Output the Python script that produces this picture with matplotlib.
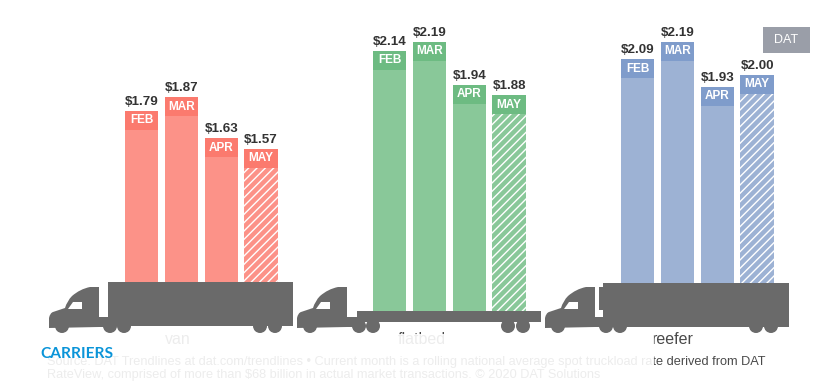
"""DAT spot rates by equipment type, drawn as bars standing on truck silhouettes."""
import matplotlib

matplotlib.use("Agg")  # headless backend

import matplotlib.pyplot as plt
from matplotlib.patches import Circle, PathPatch, Polygon, Rectangle
from matplotlib.path import Path

plt.rcParams["font.family"] = ["Liberation Sans", "DejaVu Sans"]
plt.rcParams["hatch.linewidth"] = 1.0

W, H = 833, 381

MONTHS = ["FEB", "MAR", "APR", "MAY"]
EQUIPMENT = ["van", "flatbed", "reefer"]
VAN = [1.79, 1.87, 1.63, 1.57]
FLATBED = [2.14, 2.19, 1.94, 1.88]
REEFER = [2.09, 2.19, 1.93, 2.00]

BODY = ["#fc9288", "#89c899", "#9db2d4"]
HEADER = ["#fb7a6e", "#6dbb82", "#7f9ccb"]
TRUCK = "#6a6a6a"

GROUP_X = [125, 373, 621]
STEP = 39.8
BAR_W = 33.5
PX_PER_USD = 172
HEADER_USD = 19 / PX_PER_USD
FLOOR = 0.62  # bars run down behind the truck

SOURCE_1 = ("Source: DAT Trendlines at dat.com/trendlines \u2022 Current month is a "
            "rolling national average spot truckload rate derived from DAT")
SOURCE_2 = ("RateView, comprised of more than $68 billion in actual market "
            "transactions. \u00a9 2020 DAT Solutions")

fig = plt.figure(figsize=(W / 100, H / 100), dpi=100)
ax = fig.add_axes([0, 0, 1, 1])
ax.set_xlim(0, W)
ax.set_ylim(1.87 - (H - 97) / PX_PER_USD, 1.87 + 97 / PX_PER_USD)
ax.axis("off")

# pixel-space overlay for the trucks and the text around them
ov = fig.add_axes([0, 0, 1, 1])
ov.set_xlim(0, W)
ov.set_ylim(H, 0)
ov.axis("off")
ov.patch.set_alpha(0)


def draw_bars(values, start, body, header):
    xs = [start + BAR_W / 2 + i * STEP for i in range(len(values))]
    for x, val, month in zip(xs, values, MONTHS):
        hatch = "////" if month == "MAY" else None
        ax.bar(x, val - FLOOR, BAR_W, bottom=FLOOR, color=body,
               edgecolor="white", linewidth=0, hatch=hatch, zorder=2)
        ax.bar(x, HEADER_USD, BAR_W, bottom=val - HEADER_USD, color=header,
               linewidth=0, zorder=3)
        ax.text(x, val - HEADER_USD / 2, month, color="white", fontsize=8.5,
                fontweight="bold", ha="center", va="center", zorder=4)
        ax.annotate(f"${val:.2f}", (x, val), xytext=(0, 2.2), textcoords="offset points",
                    color="#333333", fontsize=9.6, fontweight="bold",
                    ha="center", va="bottom", zorder=4)


def draw_cab(x0):
    verts = [
        (x0 + 50, 327), (x0 + 50, 287), (x0 + 41, 287), (x0 + 31, 289),
        (x0 + 23, 296), (x0 + 18, 301), (x0 + 16, 308), (x0 + 4, 312),
        (x0 + 1, 313), (x0, 318), (x0, 328), (x0 + 50, 327),
    ]
    codes = [Path.MOVETO, Path.LINETO, Path.LINETO, Path.CURVE3, Path.CURVE3,
             Path.CURVE3, Path.CURVE3, Path.LINETO, Path.CURVE3, Path.CURVE3,
             Path.LINETO, Path.CLOSEPOLY]
    ov.add_patch(PathPatch(Path(verts, codes), fc=TRUCK, lw=0, zorder=5))
    # window
    ov.add_patch(Polygon([(x0 + 19, 309), (x0 + 33, 309), (x0 + 33, 302), (x0 + 24, 302)],
                         fc="white", lw=0, zorder=6))
    ov.add_patch(Circle((x0 + 13, 326), 7, fc=TRUCK, lw=0, zorder=5))


def draw_wheels(trailer_left, trailer_right):
    centers = [trailer_left + 2, trailer_left + 16, trailer_right - 33, trailer_right - 18]
    for cx in centers:
        ov.add_patch(Circle((cx, 326), 7, fc=TRUCK, lw=0, zorder=5))


for group, (vals, start) in enumerate(zip([VAN, FLATBED, REEFER], GROUP_X)):
    draw_bars(vals, start, BODY[group], HEADER[group])

# van
draw_cab(49)
ov.add_patch(Rectangle((99, 317), 12, 10, fc=TRUCK, lw=0, zorder=5))
ov.add_patch(Rectangle((108, 282), 185, 44, fc=TRUCK, lw=0, zorder=5))
draw_wheels(108, 293)

# flatbed
draw_cab(297)
ov.add_patch(Rectangle((347, 317), 12, 10, fc=TRUCK, lw=0, zorder=5))
ov.add_patch(Rectangle((357, 311), 184, 11, fc=TRUCK, lw=0, zorder=5))
draw_wheels(357, 541)

# reefer, with the cooling unit on the front of the trailer
draw_cab(545)
ov.add_patch(Rectangle((595, 317), 12, 10, fc=TRUCK, lw=0, zorder=5))
ov.add_patch(Rectangle((603, 283), 186, 44, fc=TRUCK, lw=0, zorder=5))
ov.add_patch(Rectangle((599, 287), 6, 23, fc=TRUCK, lw=0, zorder=5))
draw_wheels(604, 789)

for name, x in zip(EQUIPMENT, [178, 422, 673]):
    ov.text(x, 340, name, color="#4a4a4a", fontsize=11.5, ha="center", va="center", zorder=7)

ov.text(47, 362, SOURCE_1, color="#4a4a4a", fontsize=9.15, ha="left", va="center", zorder=7)
ov.text(47, 375, SOURCE_2, color="#4a4a4a", fontsize=9.15, ha="left", va="center", zorder=7)

# the page's white fade sits over the caption, up to the right-hand edge
ov.add_patch(Rectangle((0, 334), 654, H - 334, fc="white", alpha=0.9, lw=0, zorder=8))

ov.text(40, 354, "CARRIERS", color="#0a94d8", fontsize=11.2, fontweight="bold",
        family=["Lato", "DejaVu Sans"], ha="left", va="center", zorder=9)

ov.add_patch(Rectangle((763, 27), 47, 26, fc="#9a9ea8", lw=0, zorder=9))
ov.text(786.5, 40, "DAT", color="white", fontsize=9, ha="center", va="center", zorder=10)

fig.savefig("out.png", dpi=100)
plt.close(fig)
